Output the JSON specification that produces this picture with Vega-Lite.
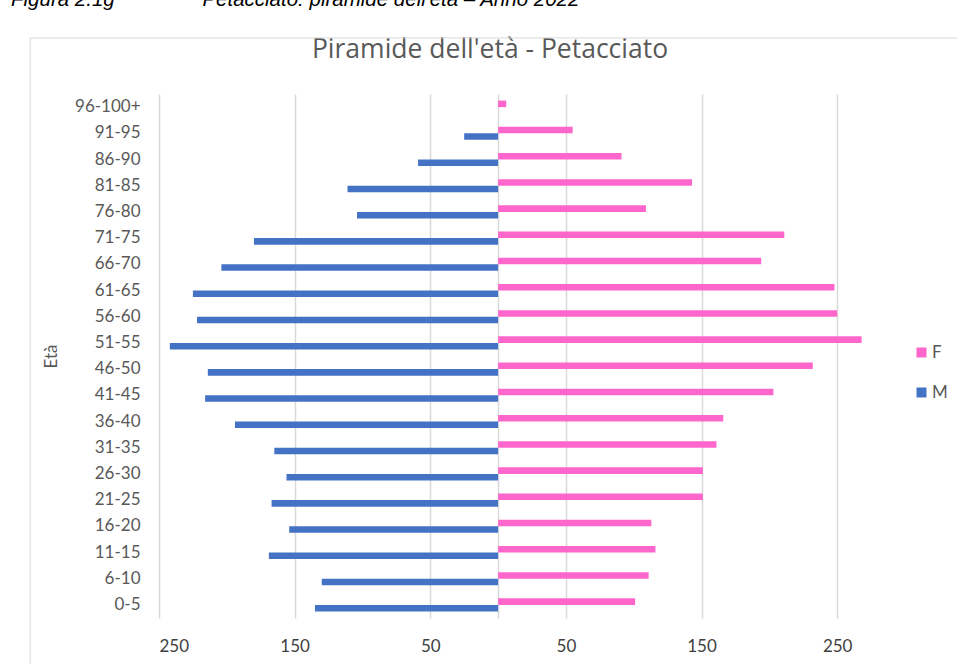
{
  "$schema": "https://vega.github.io/schema/vega-lite/v6.json",
  "width": 746,
  "height": 524,
  "autosize": {"type": "none"},
  "padding": {"left": 159, "top": 94, "right": 52, "bottom": 46},
  "background": "white",
  "title": {
    "text": "Figura 2.1g\u2003\u2003\u2003\u2003 Petacciato: piramide dell'età – Anno 2022",
    "anchor": "start",
    "frame": "group",
    "dx": -148,
    "dy": -22,
    "font": "Liberation Sans",
    "fontStyle": "italic",
    "fontWeight": "normal",
    "fontSize": 20.5,
    "color": "#000000"
  },
  "config": {"font": "Lato", "view": {"stroke": null}},
  "resolve": {"scale": {"y": "independent"}, "axis": {"x": "independent"}},
  "layer": [
    {
      "description": "Chart-area border; its top axis carries the chart heading",
      "data": {"values": [{}]},
      "mark": {"type": "rect", "fill": null, "stroke": "#d9d9d9", "strokeWidth": 1},
      "encoding": {
        "x": {
          "datum": -345,
          "type": "quantitative",
          "scale": {"domain": [-250, 300], "nice": false, "zero": false},
          "axis": {
            "orient": "top",
            "labels": false,
            "ticks": false,
            "domain": false,
            "grid": false,
            "title": "Piramide dell'età - Petacciato",
            "titleFont": "Open Sans",
            "titleFontSize": 26.5,
            "titleFontWeight": "normal",
            "titleColor": "#595959",
            "titleX": 330.5,
            "titleY": -37,
            "titleAlign": "center",
            "titleBaseline": "alphabetic"
          }
        },
        "x2": {"datum": 900},
        "y": {
          "datum": 1.107,
          "type": "quantitative",
          "scale": {"domain": [0, 1], "nice": false, "zero": false},
          "axis": null
        },
        "y2": {"datum": -1}
      }
    },
    {
      "data": {
        "values": [
          {"eta": "96-100+", "sesso": "F", "popolazione": 6},
          {"eta": "91-95", "sesso": "F", "popolazione": 55},
          {"eta": "86-90", "sesso": "F", "popolazione": 91},
          {"eta": "81-85", "sesso": "F", "popolazione": 143},
          {"eta": "76-80", "sesso": "F", "popolazione": 109},
          {"eta": "71-75", "sesso": "F", "popolazione": 211},
          {"eta": "66-70", "sesso": "F", "popolazione": 194},
          {"eta": "61-65", "sesso": "F", "popolazione": 248},
          {"eta": "56-60", "sesso": "F", "popolazione": 250},
          {"eta": "51-55", "sesso": "F", "popolazione": 268},
          {"eta": "46-50", "sesso": "F", "popolazione": 232},
          {"eta": "41-45", "sesso": "F", "popolazione": 203},
          {"eta": "36-40", "sesso": "F", "popolazione": 166},
          {"eta": "31-35", "sesso": "F", "popolazione": 161},
          {"eta": "26-30", "sesso": "F", "popolazione": 151},
          {"eta": "21-25", "sesso": "F", "popolazione": 151},
          {"eta": "16-20", "sesso": "F", "popolazione": 113},
          {"eta": "11-15", "sesso": "F", "popolazione": 116},
          {"eta": "6-10", "sesso": "F", "popolazione": 111},
          {"eta": "0-5", "sesso": "F", "popolazione": 101},
          {"eta": "96-100+", "sesso": "M", "popolazione": 0},
          {"eta": "91-95", "sesso": "M", "popolazione": -25},
          {"eta": "86-90", "sesso": "M", "popolazione": -59},
          {"eta": "81-85", "sesso": "M", "popolazione": -111},
          {"eta": "76-80", "sesso": "M", "popolazione": -104},
          {"eta": "71-75", "sesso": "M", "popolazione": -180},
          {"eta": "66-70", "sesso": "M", "popolazione": -204},
          {"eta": "61-65", "sesso": "M", "popolazione": -225},
          {"eta": "56-60", "sesso": "M", "popolazione": -222},
          {"eta": "51-55", "sesso": "M", "popolazione": -242},
          {"eta": "46-50", "sesso": "M", "popolazione": -214},
          {"eta": "41-45", "sesso": "M", "popolazione": -216},
          {"eta": "36-40", "sesso": "M", "popolazione": -194},
          {"eta": "31-35", "sesso": "M", "popolazione": -165},
          {"eta": "26-30", "sesso": "M", "popolazione": -156},
          {"eta": "21-25", "sesso": "M", "popolazione": -167},
          {"eta": "16-20", "sesso": "M", "popolazione": -154},
          {"eta": "11-15", "sesso": "M", "popolazione": -169},
          {"eta": "6-10", "sesso": "M", "popolazione": -130},
          {"eta": "0-5", "sesso": "M", "popolazione": -135}
        ]
      },
      "mark": {"type": "bar"},
      "encoding": {
        "y": {
          "field": "eta",
          "type": "nominal",
          "sort": ["96-100+", "91-95", "86-90", "81-85", "76-80", "71-75", "66-70", "61-65", "56-60", "51-55", "46-50", "41-45", "36-40", "31-35", "26-30", "21-25", "16-20", "11-15", "6-10", "0-5"],
          "scale": {"paddingInner": 0.5, "paddingOuter": 0.25},
          "axis": {
            "title": "Età",
            "titleFontSize": 17,
            "titleFontWeight": "normal",
            "titleColor": "#595959",
            "titlePadding": 14,
            "labelFontSize": 17,
            "labelColor": "#595959",
            "labelPadding": 19,
            "ticks": false,
            "domain": false,
            "grid": false
          }
        },
        "yOffset": {"field": "sesso", "type": "nominal", "sort": ["F", "M"], "scale": {"paddingInner": 0, "paddingOuter": 0}},
        "x": {
          "field": "popolazione",
          "type": "quantitative",
          "scale": {"domain": [-250, 300], "nice": false, "zero": false},
          "axis": {
            "orient": "bottom",
            "values": [-250, -150, -50, 0, 50, 150, 250],
            "labelExpr": "datum.value == 0 ? '' : abs(datum.value)",
            "grid": true,
            "gridColor": "#d9d9d9",
            "gridWidth": 1.5,
            "ticks": false,
            "domain": false,
            "title": null,
            "labelFontSize": 17,
            "labelColor": "#404040",
            "labelPadding": 20
          }
        },
        "color": {
          "field": "sesso",
          "type": "nominal",
          "scale": {"domain": ["F", "M"], "range": ["#FF66CC", "#4472C4"]},
          "legend": {
            "orient": "none",
            "legendX": 754,
            "legendY": 250,
            "title": null,
            "padding": 0,
            "symbolType": "square",
            "symbolSize": 100,
            "symbolStrokeWidth": 0,
            "labelFontSize": 17,
            "labelColor": "#595959",
            "labelOffset": 2,
            "rowPadding": 22
          }
        }
      }
    }
  ]
}
